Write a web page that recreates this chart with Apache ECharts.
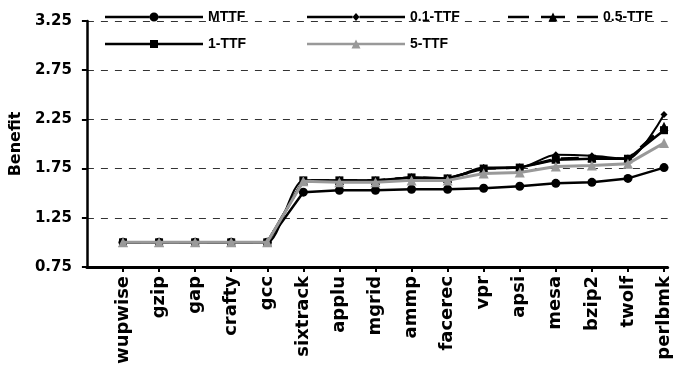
<!DOCTYPE html>
<html><head><meta charset="utf-8">
<script src="https://cdn.jsdelivr.net/npm/echarts@6/dist/echarts.min.js"></script>
<style>html,body{margin:0;padding:0;background:#fff}#c{width:673px;height:367px}</style>
</head><body><div id="c"></div>
<script>
const categories = ['wupwise','gzip','gap','crafty','gcc','sixtrack','applu','mgrid','ammp','facerec','vpr','apsi','mesa','bzip2','twolf','perlbmk'];
const yTicks = [0.75,1.25,1.75,2.25,2.75,3.25];
const mttf  = [1.00,1.00,1.00,1.00,1.00,1.51,1.53,1.53,1.54,1.54,1.55,1.57,1.60,1.61,1.65,1.76];
const ttf01 = [1.00,1.00,1.00,1.00,1.00,1.63,1.63,1.63,1.66,1.65,1.76,1.76,1.89,1.88,1.85,2.30];
const ttf05 = [1.00,1.00,1.00,1.00,1.00,1.63,1.63,1.63,1.66,1.65,1.75,1.76,1.85,1.86,1.85,2.18];
const ttf1  = [1.00,1.00,1.00,1.00,1.00,1.63,1.63,1.63,1.66,1.65,1.75,1.76,1.84,1.85,1.85,2.14];
const ttf5  = [1.00,1.00,1.00,1.00,1.00,1.62,1.61,1.61,1.63,1.63,1.70,1.71,1.77,1.78,1.80,2.01];

const idx = categories.map((_, i) => i);
const pts = arr => arr.map((v, i) => [i, v]);
const chart = echarts.init(document.getElementById('c'), null, {renderer: 'canvas'});
const legendText = {fontFamily: 'Liberation Sans, Arial, sans-serif', fontWeight: 'bold', fontSize: 14, color: '#000'};
// legend icons: line with marker (drawn as filled path)
const icons = {
  'MTTF': 'path://M0,3.25H44.5V5.75H0Z M53.5,3.25H98V5.75H53.5Z M44.5,4.5A4.5,4.5 0 1,1 53.5,4.5A4.5,4.5 0 1,1 44.5,4.5Z',
  '0.1-TTF': 'path://M0,2.75H45.5V5.25H0Z M52.5,2.75H98V5.25H52.5Z M49,0L52.5,4L49,8L45.5,4Z',
  '0.5-TTF': 'path://M0,3.25H21V5.75H0Z M33,3.25H57V5.75H33Z M69,3.25H90V5.75H69Z M40.5,9L45,0L49.5,9Z',
  '1-TTF': 'path://M0,2.75H45V5.25H0Z M53,2.75H98V5.25H53Z M45,0H53V8H45Z',
  '5-TTF': 'path://M0,3.25H98V5.75H0Z M44.5,9L49,0L53.5,9Z'
};
function lg(name, left, top, w, h, color) {
  return {data: [{name: name, icon: icons[name]}], left: left, top: top, padding: 0,
          itemWidth: w, itemHeight: h, itemGap: 5, textStyle: legendText, selectedMode: false,
          itemStyle: {color: color, borderWidth: 0}};
}
chart.setOption({
  animation: false,
  backgroundColor: '#fff',
  grid: {left: 82, right: 0, top: 21, bottom: 98, containLabel: false},
  legend: [lg('MTTF', 105, 10, 98, 9, '#000'), lg('0.1-TTF', 307, 10, 98, 8, '#000'),
           lg('0.5-TTF', 508, 10, 90, 9, '#000'),
           lg('1-TTF', 105, 37, 98, 8, '#000'), lg('5-TTF', 307, 37, 98, 9, '#999')],
  xAxis: {
    type: 'value', min: -1, max: 15.1, interval: 1,
    axisLine: {show: true, onZero: false, lineStyle: {color: '#000', width: 3}},
    axisTick: {show: true, length: 5, inside: false, customValues: idx, lineStyle: {color: '#000', width: 2}},
    splitLine: {show: false},
    axisLabel: {
      customValues: idx, rotate: 90, margin: 9,
      formatter: v => categories[Math.round(v)] || '',
      fontFamily: 'DejaVu Sans, sans-serif', fontWeight: 'bold', fontSize: 18, color: '#000'
    }
  },
  yAxis: {
    type: 'value', min: 0.75, max: 3.25, interval: 0.5,
    name: 'Benefit', nameLocation: 'middle', nameGap: 57, nameRotate: 90,
    nameTextStyle: {fontFamily: 'DejaVu Sans, sans-serif', fontWeight: 'bold', fontSize: 16, color: '#000'},
    axisLine: {show: true, onZero: false, lineStyle: {color: '#000', width: 2.5}},
    axisTick: {show: true, length: 5, lineStyle: {color: '#000', width: 2}},
    splitLine: {show: true, lineStyle: {color: '#333', width: 1, type: [7, 7]}},
    axisLabel: {
      margin: 15, formatter: v => v.toFixed(2),
      fontFamily: 'DejaVu Sans, sans-serif', fontWeight: 'bold', fontSize: 15, color: '#000'
    }
  },
  series: [
    {name: 'MTTF', type: 'line', data: pts(mttf), symbol: 'circle', symbolSize: 9,
     lineStyle: {color: '#000', width: 2.5}, itemStyle: {color: '#000'}, z: 5},
    {name: '0.1-TTF', type: 'line', data: pts(ttf01), symbol: 'diamond', symbolSize: 7, smooth: 0.25,
     lineStyle: {color: '#000', width: 2}, itemStyle: {color: '#000'}, z: 4},
    {name: '0.5-TTF', type: 'line', data: pts(ttf05), symbol: 'triangle', symbolSize: 9,
     lineStyle: {color: '#000', width: 2.5, type: [18, 10]}, itemStyle: {color: '#000'}, z: 3},
    {name: '1-TTF', type: 'line', data: pts(ttf1), symbol: 'rect', symbolSize: 8,
     lineStyle: {color: '#000', width: 2.5}, itemStyle: {color: '#000'}, z: 3},
    {name: '5-TTF', type: 'line', data: pts(ttf5), symbol: 'triangle', symbolSize: 10,
     lineStyle: {color: '#999', width: 3}, itemStyle: {color: '#999'}, z: 6}
  ]
});
</script></body></html>
